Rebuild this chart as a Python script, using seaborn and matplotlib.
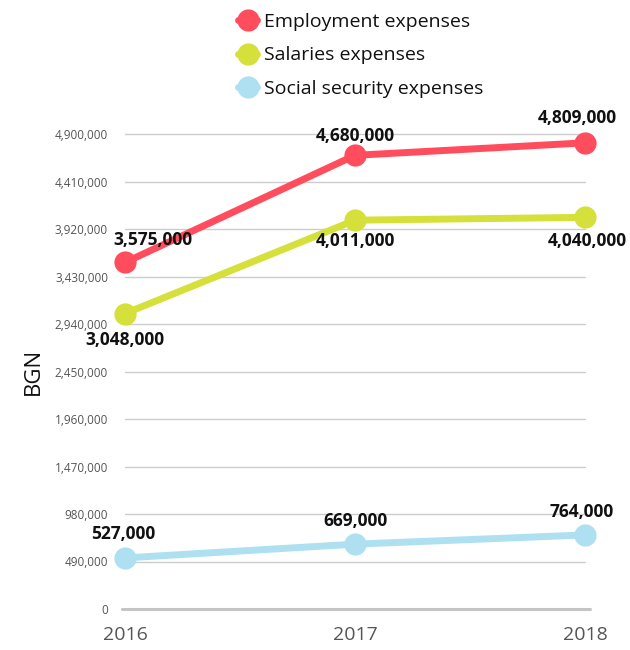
import matplotlib
matplotlib.use("Agg")
import matplotlib.pyplot as plt
from matplotlib.lines import Line2D
import seaborn as sns
import pandas as pd

years = [2016, 2017, 2018]
series_names = ["Employment expenses", "Salaries expenses", "Social security expenses"]
employment = [3575000, 4680000, 4809000]
salaries = [3048000, 4011000, 4040000]
social = [527000, 669000, 764000]
y_ticks = [0, 490000, 980000, 1470000, 1960000, 2450000, 2940000, 3430000, 3920000, 4410000, 4900000]
colors = ["#ff4d5e", "#d6e03a", "#aee0f2"]

df = pd.DataFrame({
    "year": years * 3,
    "value": employment + salaries + social,
    "series": [series_names[0]] * 3 + [series_names[1]] * 3 + [series_names[2]] * 3,
})

sns.set_theme(style="white")
plt.rcParams["font.family"] = ["Open Sans", "DejaVu Sans"]

fig = plt.figure(figsize=(6.3, 6.5), dpi=100)
ax = fig.add_axes([122 / 630, 41 / 650, (590 - 122) / 630, (609 - 134) / 650])

ax.set_xlim(2016 - 3 / 230, 2018 + 5 / 230)
ax.set_ylim(0, 4900000)

for yt in y_ticks[1:]:
    ax.plot([2016, 2018], [yt, yt], color="#cccccc", lw=1, zorder=0)
ax.axhline(0, color="#c4c4c4", lw=2.2, zorder=0)

sns.lineplot(data=df, x="year", y="value", hue="series", palette=colors,
             hue_order=series_names, marker="o", markersize=16, markeredgewidth=0,
             linewidth=5, legend=False, ax=ax, zorder=3)
for line in ax.lines:
    line.set_clip_on(False)

for s in ax.spines.values():
    s.set_visible(False)

ax.set_yticks(y_ticks)
ax.set_yticklabels([f"{v:,}" for v in y_ticks], fontsize=8.5, color="#555555")
ax.set_xticks(years)
ax.set_xticklabels([str(y) for y in years], fontsize=14, color="#555555")
ax.tick_params(axis="x", length=5, width=1, color="#bbbbbb", pad=7, direction="out")
ax.tick_params(axis="y", length=0, pad=10)
ax.set_xlabel("")
ax.set_ylabel("BGN", fontsize=16, color="#111111", labelpad=8)

px = 0.72
def lab(x, y, dx, dy):
    ax.annotate(f"{y:,}", (x, y), xytext=(dx * px, dy * px), textcoords="offset points",
                ha="center", va="center", fontsize=12.5, fontweight="bold", color="#111111",
                zorder=5)

lab(years[0], employment[0], 28, 22)
lab(years[0], salaries[0], 0, -26)
lab(years[1], employment[1], 0, 19)
lab(years[1], salaries[1], 0, -21)
lab(years[2], employment[2], -8, 25)
lab(years[2], salaries[2], 2, -24)
lab(years[0], social[0], -2, 24)
lab(years[1], social[1], 0, 23)
lab(years[2], social[2], -3, 23)

handles = [Line2D([0], [0], color=c, lw=5, marker="o", markersize=16, markeredgewidth=0)
           for c in colors]
fig.legend(handles, series_names, loc="upper left", bbox_to_anchor=(230 / 630, 1 - 5 / 650),
           frameon=False, fontsize=14, handlelength=1.0, handletextpad=0.35,
           labelspacing=0.8, borderaxespad=0, labelcolor="#111111")

fig.savefig("out.png", dpi=100)
